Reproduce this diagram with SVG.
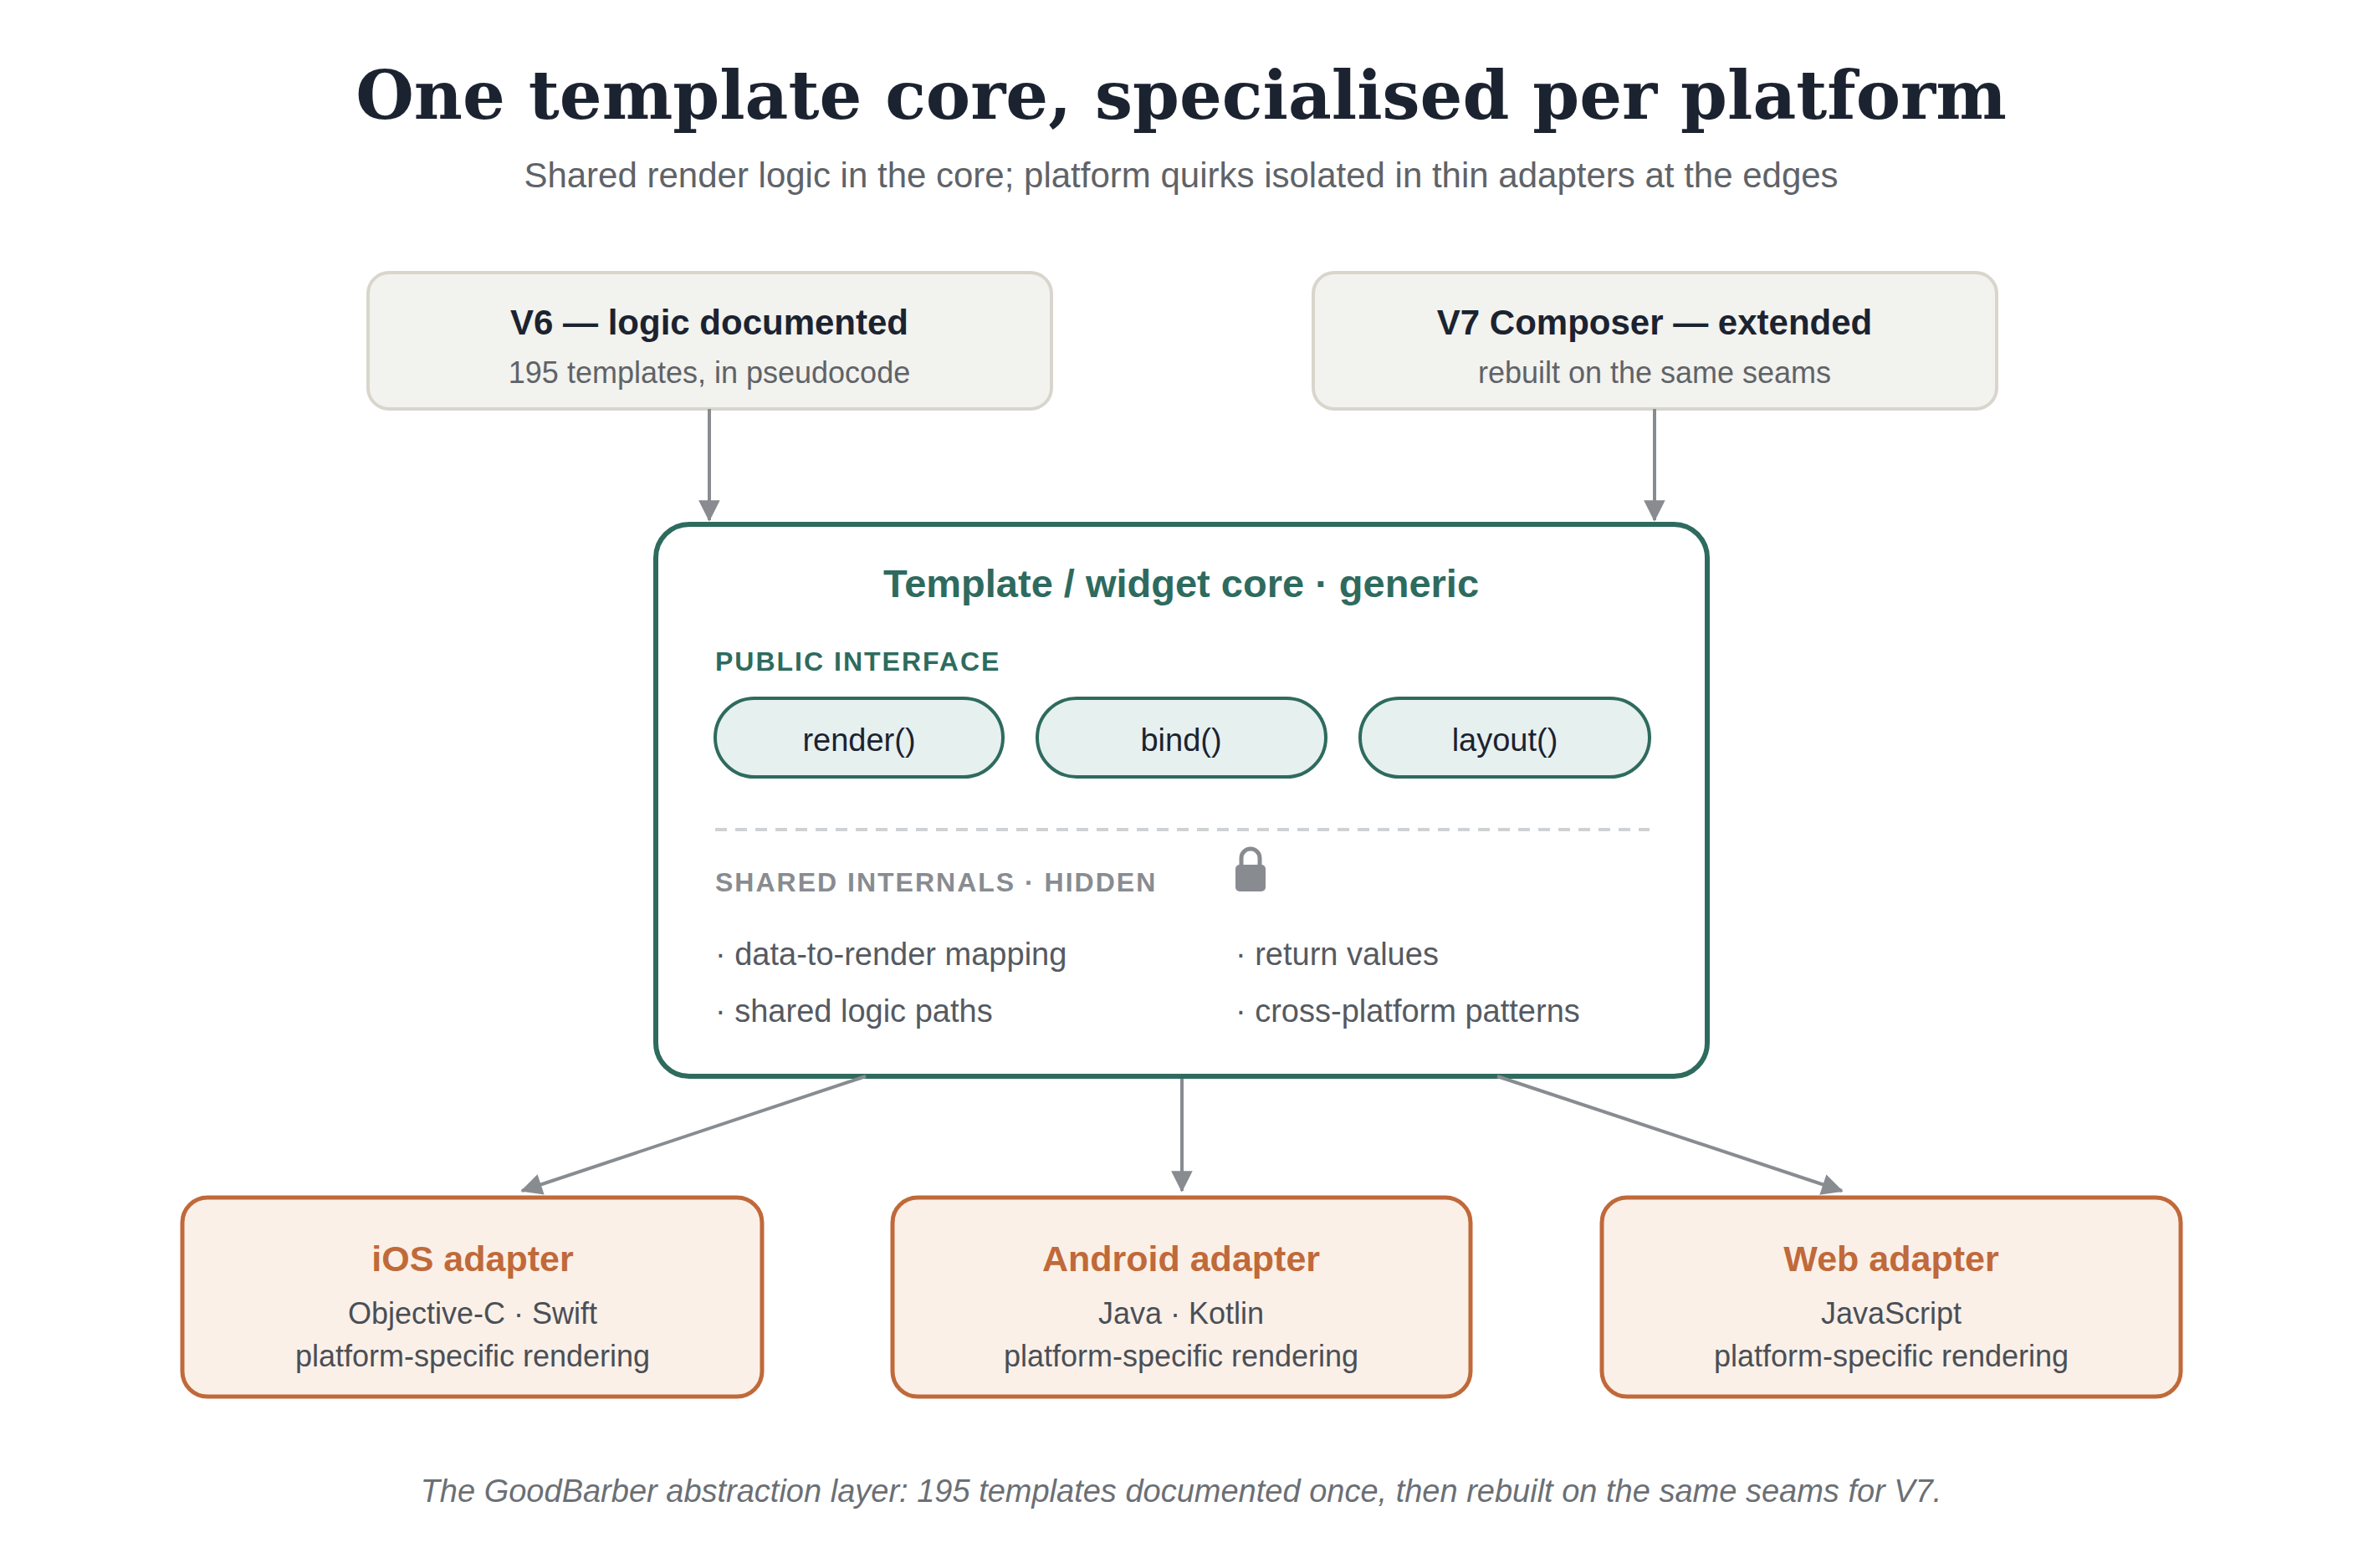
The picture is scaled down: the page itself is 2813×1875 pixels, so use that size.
<svg xmlns="http://www.w3.org/2000/svg" width="2813" height="1875" viewBox="0 0 2813 1875">
<style>
text{font-family:"Liberation Sans",Arial,sans-serif;text-anchor:middle}
.h{font-size:42px;font-weight:bold;fill:#1c2330}
.s{font-size:36px;fill:#5f6368}
.ad{fill:#fbf0e7;stroke:#c0693a;stroke-width:5}
.at{font-size:43px;font-weight:bold;fill:#c0693a}
.as{font-size:36px;fill:#4a4f57}
.pill{fill:#e6f0ef;stroke:#2e6b5e;stroke-width:4}
.pt{font-size:38px;fill:#1c2330}
.b{font-size:38px;fill:#555a61;text-anchor:start}
.c{stroke:#888c91;stroke-width:4;fill:none;marker-end:url(#ar)}
</style>
<defs><marker id="ar" viewBox="0 0 10 10" refX="9" refY="5" markerWidth="8" markerHeight="8" markerUnits="userSpaceOnUse" orient="auto" style="overflow:visible"><path d="M0,0L10,5L0,10z" fill="#888c91" transform="scale(3.2) translate(-6.5,-3.4)"/></marker></defs>
<rect width="2813" height="1875" fill="#fff"/>
<text x="1412" y="142" style="font-family:'DejaVu Serif',Georgia,serif;font-size:80px;font-weight:bold;fill:#1c2330">One template core, specialised per platform</text>
<text x="1412" y="224" style="font-size:42px;fill:#5f6368">Shared render logic in the core; platform quirks isolated in thin adapters at the edges</text>
<g id="v6"><rect x="440" y="326" width="817" height="163" rx="25" fill="#f2f2ee" stroke="#d8d6cc" stroke-width="4"/><text class="h" x="848" y="400">V6 — logic documented</text><text class="s" x="848" y="458">195 templates, in pseudocode</text></g>
<g id="v7"><rect x="1570" y="326" width="817" height="163" rx="25" fill="#f2f2ee" stroke="#d8d6cc" stroke-width="4"/><text class="h" x="1978" y="400">V7 Composer — extended</text><text class="s" x="1978" y="458">rebuilt on the same seams</text></g>
<g id="core">
<rect x="784" y="627" width="1257" height="660" rx="40" fill="#fff" stroke="#2e6b5e" stroke-width="6"/>
<text x="1412" y="714" style="font-size:47px;font-weight:bold;fill:#2e6b5e">Template / widget core · generic</text>
<text x="855" y="802" style="text-anchor:start;font-size:32px;font-weight:bold;fill:#2e6b5e;letter-spacing:2px">PUBLIC INTERFACE</text>
<rect class="pill" x="855" y="835" width="344" height="94" rx="47"/><text class="pt" x="1027" y="898">render()</text>
<rect class="pill" x="1240" y="835" width="345" height="94" rx="47"/><text class="pt" x="1412" y="898">bind()</text>
<rect class="pill" x="1626" y="835" width="346" height="94" rx="47"/><text class="pt" x="1799" y="898">layout()</text>
<line x1="855" y1="992" x2="1972" y2="992" stroke="#cfd2d4" stroke-width="4" stroke-dasharray="14 10"/>
<text x="855" y="1066" style="text-anchor:start;font-size:32px;font-weight:bold;fill:#888c91;letter-spacing:2px">SHARED INTERNALS · HIDDEN</text>
<path d="M1484,1036 v-10 a11,11 0 0 1 22,0 v10" fill="none" stroke="#888c91" stroke-width="5"/>
<rect x="1477" y="1034" width="36" height="32" rx="5" fill="#888c91"/>
<text class="b" x="855" y="1154">· data-to-render mapping</text>
<text class="b" x="855" y="1222">· shared logic paths</text>
<text class="b" x="1477" y="1154">· return values</text>
<text class="b" x="1477" y="1222">· cross-platform patterns</text>
</g>
<g id="ios"><rect class="ad" x="218" y="1432" width="693" height="238" rx="30"/><text class="at" x="565" y="1520">iOS adapter</text><text class="as" x="565" y="1583">Objective-C · Swift</text><text class="as" x="565" y="1634">platform-specific rendering</text></g>
<g id="android"><rect class="ad" x="1067" y="1432" width="691" height="238" rx="30"/><text class="at" x="1412" y="1520">Android adapter</text><text class="as" x="1412" y="1583">Java · Kotlin</text><text class="as" x="1412" y="1634">platform-specific rendering</text></g>
<g id="web"><rect class="ad" x="1915" y="1432" width="692" height="238" rx="30"/><text class="at" x="2261" y="1520">Web adapter</text><text class="as" x="2261" y="1583">JavaScript</text><text class="as" x="2261" y="1634">platform-specific rendering</text></g>
<g id="connectors">
<line class="c" x1="848" y1="489" x2="848" y2="622"/>
<line class="c" x1="1978" y1="489" x2="1978" y2="622"/>
<line class="c" x1="1035" y1="1287" x2="624" y2="1424"/>
<line class="c" x1="1413" y1="1290" x2="1413" y2="1424"/>
<line class="c" x1="1790" y1="1287" x2="2202" y2="1424"/>
</g>
<text x="1412" y="1796" style="font-size:38px;font-style:italic;fill:#6b6f75">The GoodBarber abstraction layer: 195 templates documented once, then rebuilt on the same seams for V7.</text>
</svg>
